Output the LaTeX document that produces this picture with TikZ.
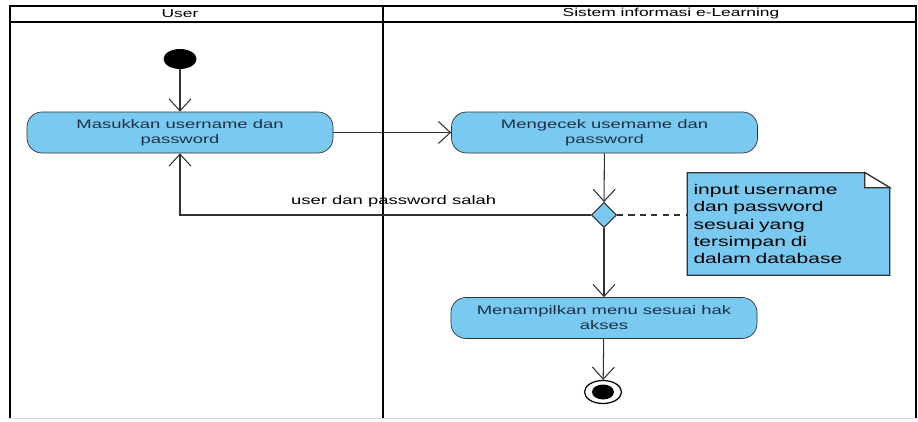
\documentclass[tikz,border=0pt]{standalone}
\usepackage{fontspec}
\setmainfont[FakeStretch=1.5]{Liberation Sans}
\usepackage{tikz}
\usetikzlibrary{arrows.meta,positioning,calc,shapes.geometric,backgrounds}

\definecolor{actblue}{RGB}{122,201,240}
\definecolor{acttext}{RGB}{28,48,66}
\definecolor{linegray}{RGB}{50,50,50}

\begin{document}
\begin{tikzpicture}[>={Straight Barb[length=2.4mm,width=4.4mm]},
    act/.style={draw=linegray, fill=actblue, rounded corners=0.3cm,
      minimum width=6.12cm, minimum height=0.82cm, inner sep=0pt,
      align=center, text=acttext, font=\fontsize{7}{8.5}\selectfont},
    flow/.style={->, draw=linegray, line width=0.6pt},
    lane/.style={line width=1.6pt}]
  \useasboundingbox (0,0) rectangle (18.36,8.42);
  % Swimlanes
  \draw[lane] (0.2,0.06) -- (0.2,8.30) -- (18.32,8.30) -- (18.32,0.06);
  \draw[lane] (0.2,7.98) -- (18.32,7.98);
  \draw[lane] (7.66,0.06) -- (7.66,8.30);
  \draw[gray!30, line width=0.5pt] (0.2,0.06) -- (18.32,0.06);
  \node[font=\fontsize{6.6}{7.5}\selectfont] (laneuser) at (3.6,8.14) {User};
  \node[font=\fontsize{6.6}{7.5}\selectfont] (lanesistem) at (13.42,8.14) {Sistem informasi e-Learning};
  % Nodes
  \node[ellipse, fill=black, minimum width=0.66cm, minimum height=0.4cm, inner sep=0pt] (mulai) at (3.6,7.24) {};
  \node[act] (masukkan) at (3.6,5.77) {Masukkan username dan\\password};
  \node[act] (mengecek) at (12.09,5.77) {Mengecek usemame dan\\password};
  \node[diamond, aspect=1, draw=linegray, fill=actblue, line width=0.6pt,
    minimum size=0.5cm, inner sep=0pt] (cek) at (12.08,4.12) {};
  \node[text width=3.8cm, minimum height=2.04cm, inner sep=0.12cm, align=left,
    font=\fontsize{8}{9.7}\selectfont] (catatan) at (15.77,3.94)
    {input username\\dan password\\sesuai yang\\tersimpan di\\dalam database};
  \node[act] (menampilkan) at (12.08,2.06) {Menampilkan menu sesuai hak\\akses};
  \node[ellipse, draw=black, line width=0.7pt, minimum width=0.74cm, minimum height=0.46cm,
    inner sep=0pt] (akhir) at (12.06,0.58) {};
  \fill (akhir) ellipse (0.22 and 0.15);
  % Note outline
  \begin{scope}[on background layer]
    \filldraw[fill=actblue, draw=linegray, line width=0.7pt]
      (catatan.south west) -- (catatan.north west) -- ($(catatan.north east)+(-0.5,0)$)
      -- ($(catatan.north east)+(0,-0.3)$) -- (catatan.south east) -- cycle;
    \filldraw[fill=white, draw=linegray, line width=0.7pt]
      ($(catatan.north east)+(-0.5,0)$) -- ($(catatan.north east)+(-0.5,-0.3)$)
      -- ($(catatan.north east)+(0,-0.3)$) -- cycle;
  \end{scope}
  % Flows
  \draw[flow] (mulai) -- (masukkan);
  \draw[flow] (masukkan) -- (mengecek);
  \draw[flow] (mengecek) -- (cek);
  \draw[flow] (cek.west) -| node[pos=0.24, above=1pt, font=\fontsize{7}{8.5}\selectfont]
    {user dan password salah} (masukkan.south);
  \draw[linegray, line width=0.6pt, dash pattern=on 3.5pt off 3pt] (cek.east) -- (cek.east -| catatan.west);
  \draw[flow] (cek) -- (menampilkan);
  \draw[flow] (menampilkan) -- (akhir);
\end{tikzpicture}
\end{document}
